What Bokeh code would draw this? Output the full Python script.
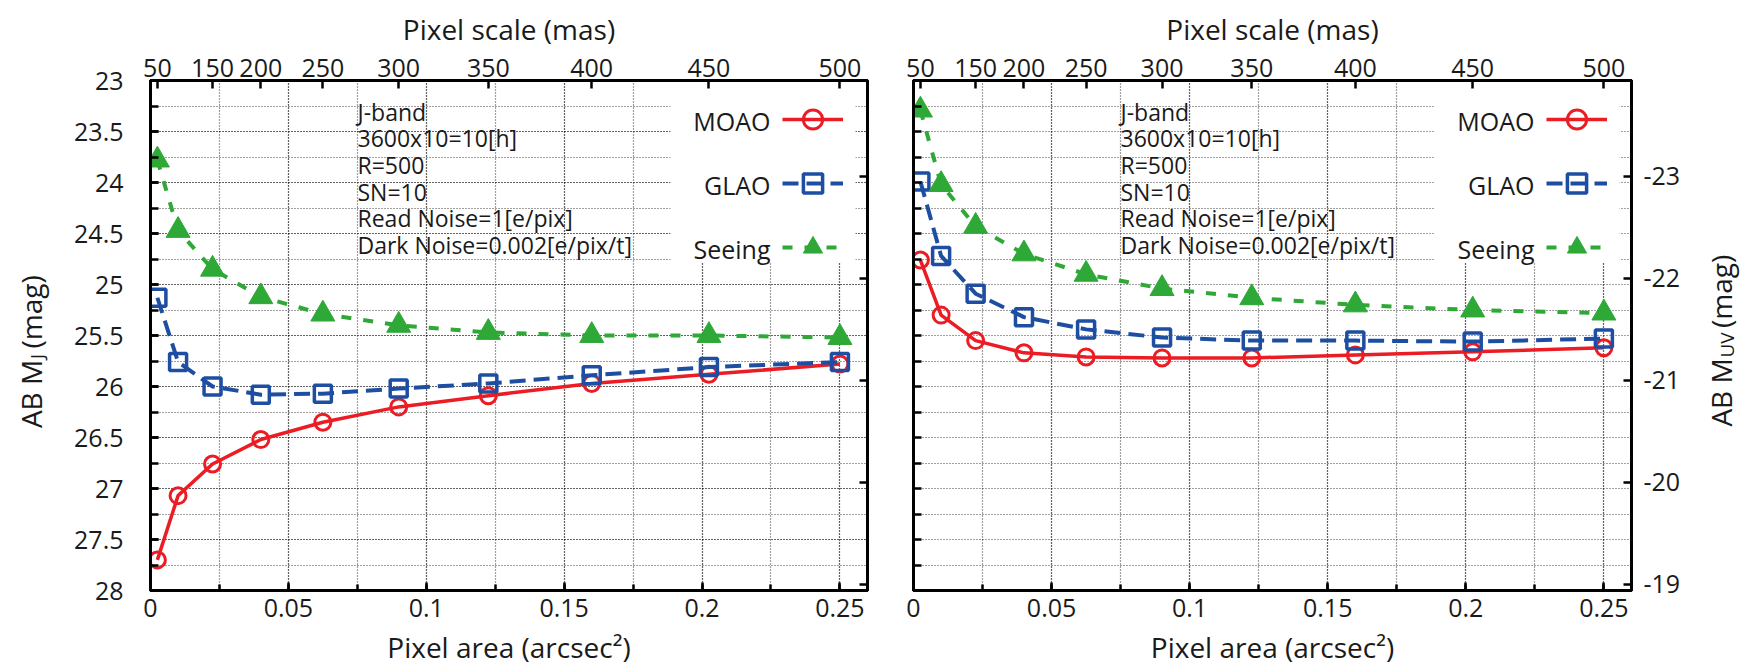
import math
from bokeh.plotting import figure
from bokeh.models import (Range1d, LinearAxis, FixedTicker, SingleIntervalTicker,
                          PrintfTickFormatter, CustomJSTickFormatter, Legend, LegendItem,
                          Label, BoxAnnotation, ColumnDataSource)
from bokeh.layouts import row
from bokeh.embed import file_html
from bokeh.resources import INLINE

# ---------------- data ----------------
pixel_scale_mas = [50, 100, 150, 200, 250, 300, 350, 400, 450, 500]
pixel_area = [(s / 1000.0) ** 2 for s in pixel_scale_mas]

# left panel : AB M_J (mag)
left_moao = [27.70, 27.07, 26.76, 26.52, 26.35, 26.20, 26.09, 25.97, 25.88, 25.78]
left_glao = [25.13, 25.76, 26.00, 26.08, 26.07, 26.02, 25.97, 25.89, 25.81, 25.76]
left_seeing = [23.78, 24.47, 24.85, 25.12, 25.29, 25.40, 25.47, 25.50, 25.50, 25.52]

# right panel : same magnitude scale on the left, AB M_UV on the right
right_moao = [24.76, 25.30, 25.55, 25.67, 25.71, 25.72, 25.72, 25.69, 25.66, 25.62]
right_glao = [23.99, 24.72, 25.09, 25.32, 25.44, 25.52, 25.55, 25.55, 25.56, 25.53]
right_seeing = [23.29, 24.02, 24.43, 24.70, 24.90, 25.04, 25.13, 25.20, 25.25, 25.28]

top_tick_mas = [50, 150, 200, 250, 300, 350, 400, 450, 500]
muv_ticks = [-23, -22, -21, -20, -19]
muv_offset = 46.94  # position of M_UV tick on the M_J scale: M_J = M_UV + offset

series_names = ["MOAO", "GLAO", "Seeing"]
annotation_lines = ["J-band", "3600x10=10[h]", "R=500", "SN=10",
                    "Read Noise=1[e/pix]", "Dark Noise=0.002[e/pix/t]"]
left_title = ("AB M", "J", "(mag)")
right_title = ("AB M", "UV", "(mag)")

# ---------------- style ----------------
FONT = "Open Sans"
RED = "#ec1c24"
BLUE = "#1d4ea2"
GREEN = "#2ea836"
TXT = "#1a1a1a"
FRAME_H = 510
CANVAS_H = 670
Y_TOP, Y_BOTTOM = 23.0, 28.0
X_MAX = 0.26
PX_PER_MAG = FRAME_H / (Y_BOTTOM - Y_TOP)

nearest_code = """
let best = 0;
for (let i = 0; i < tpos.length; i++) {
  if (Math.abs(tpos[i] - tick) < Math.abs(tpos[best] - tick)) { best = i; }
}
return tlabels[best];
"""


def style_axis(ax, minor_in=8):
    ax.axis_line_width = 3
    ax.axis_line_color = "black"
    ax.major_tick_in = 8
    ax.major_tick_out = 0
    ax.minor_tick_in = minor_in
    ax.minor_tick_out = 0
    ax.major_tick_line_width = 2.5
    ax.minor_tick_line_width = 2.5
    ax.major_label_text_font = FONT
    ax.major_label_text_font_size = "25px"
    ax.major_label_text_color = TXT
    ax.axis_label_text_font = FONT
    ax.axis_label_text_font_size = "28px"
    ax.axis_label_text_font_style = "normal"
    ax.axis_label_text_color = TXT


def add_text(p, x, y, text, size, align="left", angle=0.0, baseline="middle"):
    p.add_layout(Label(x=x, y=y, text=text, text_font=FONT, text_font_size=size,
                       text_color=TXT, text_align=align, text_baseline=baseline,
                       angle=angle))


def make_title_strip(width, pieces, anchor_y, sub_len):
    """A narrow blank figure (data units = pixels) holding a rotated title with a subscript."""
    t = figure(width=width, height=CANVAS_H, x_range=Range1d(0, width),
               y_range=Range1d(CANVAS_H, 0), min_border=0,
               x_axis_location=None, y_axis_location=None,
               output_backend="svg", toolbar_location=None)
    t.outline_line_color = None
    t.grid.visible = False
    t.background_fill_color = "white"
    t.border_fill_color = "white"
    cx = 30
    main, sub, rest = pieces
    add_text(t, cx, anchor_y, main, "28px", align="right", angle=math.pi / 2)
    add_text(t, cx + 6, anchor_y - 1, sub, "19px", align="left", angle=math.pi / 2)
    add_text(t, cx, anchor_y - sub_len - 8, rest, "28px", align="left", angle=math.pi / 2)
    return t


def make_panel(moao, glao, seeing, is_left):
    fw = 717 if is_left else 718
    px_per_x = fw / X_MAX
    p = figure(frame_width=fw, frame_height=FRAME_H,
               min_border_left=90 if is_left else 23,
               min_border_right=23 if is_left else 59,
               min_border_top=80, min_border_bottom=80,
               x_range=Range1d(0, X_MAX), y_range=Range1d(Y_BOTTOM, Y_TOP),
               output_backend="svg", toolbar_location=None)
    p.background_fill_color = "white"
    p.border_fill_color = "white"
    p.outline_line_color = "black"
    p.outline_line_width = 3

    # bottom axis
    xa = p.xaxis[0]
    xa.ticker = SingleIntervalTicker(interval=0.05, num_minor_ticks=2)
    xa.formatter = PrintfTickFormatter(format="%.3g")
    xa.axis_label = "Pixel area (arcsec²)"
    style_axis(xa, minor_in=6)
    xa.major_label_standoff = 8
    xa.axis_label_standoff = 8

    # left axis
    ya = p.yaxis[0]
    if is_left:
        ya.ticker = SingleIntervalTicker(interval=0.5, num_minor_ticks=2)
        ya.formatter = PrintfTickFormatter(format="%.3g")
        style_axis(ya)
        ya.major_label_standoff = 27
    else:
        ya.ticker = SingleIntervalTicker(interval=0.25, num_minor_ticks=0)
        ya.formatter = CustomJSTickFormatter(code="return '';")
        style_axis(ya)
        ya.major_label_standoff = 0

    # top axis : pixel scale
    top_pos = [(m / 1000.0) ** 2 for m in top_tick_mas]
    ta = LinearAxis(ticker=FixedTicker(ticks=top_pos),
                    formatter=CustomJSTickFormatter(
                        args=dict(tpos=top_pos, tlabels=[str(m) for m in top_tick_mas]),
                        code=nearest_code),
                    axis_label="Pixel scale (mas)")
    style_axis(ta)
    ta.major_label_standoff = 4
    ta.axis_label_standoff = 8
    p.add_layout(ta, "above")

    # right axis : AB M_UV
    muv_pos = [m + muv_offset for m in muv_ticks]
    ra = LinearAxis(ticker=FixedTicker(ticks=muv_pos),
                    formatter=CustomJSTickFormatter(
                        args=dict(tpos=muv_pos,
                                  tlabels=[str(m) for m in muv_ticks] if not is_left else [""] * len(muv_ticks)),
                        code=nearest_code))
    style_axis(ra)
    ra.major_label_standoff = 12 if not is_left else 0
    p.add_layout(ra, "right")

    # grid
    for g in (p.xgrid[0], p.ygrid[0]):
        g.grid_line_color = "black"
        g.grid_line_alpha = 0.75
        g.grid_line_dash = "1 2"
        g.grid_line_width = 1.2
        g.minor_grid_line_color = "black"
        g.minor_grid_line_alpha = 0.75
        g.minor_grid_line_dash = "1 2"
        g.minor_grid_line_width = 1.2

    # opaque key box
    p.add_layout(BoxAnnotation(left=(fw - 197) / px_per_x, right=(fw - 12) / px_per_x,
                               top=Y_TOP, bottom=Y_TOP + 182 / PX_PER_MAG,
                               fill_color="white", fill_alpha=1.0, line_alpha=0,
                               level="underlay"))

    src = ColumnDataSource(dict(x=pixel_area, moao=moao, glao=glao, seeing=seeing))
    r1 = p.line("x", "moao", source=src, line_color=RED, line_width=3.5)
    s1 = p.scatter("x", "moao", source=src, marker="circle", size=16,
                   line_color=RED, line_width=3, fill_color=None)
    r2 = p.line("x", "glao", source=src, line_color=BLUE, line_width=4, line_dash="16 8")
    s2 = p.scatter("x", "glao", source=src, marker="square", size=17,
                   line_color=BLUE, line_width=3.5, fill_color=None)
    r3 = p.line("x", "seeing", source=src, line_color=GREEN, line_width=4, line_dash="10 12")
    s3 = p.scatter("x", "seeing", source=src, marker="triangle", size=24,
                   line_color=GREEN, line_width=1, fill_color=GREEN)

    legend = Legend(items=[LegendItem(label=" ", renderers=[r1, s1]),
                           LegendItem(label=" ", renderers=[r2, s2]),
                           LegendItem(label=" ", renderers=[r3, s3])],
                    location=(fw - 85, 319), glyph_width=61, glyph_height=48,
                    label_height=48, label_width=0, label_standoff=0,
                    spacing=16, padding=0, margin=0, border_line_color=None,
                    background_fill_alpha=0, label_text_font_size="1px")
    p.add_layout(legend)

    # key names (right-aligned, left of the samples)
    key_x = (fw - 97) / px_per_x
    for i, name in enumerate(series_names):
        add_text(p, key_x, Y_TOP + (40 + 64 * i) / PX_PER_MAG, name, "25px", align="right")

    # annotation block
    ann_x = 207 / px_per_x
    for i, line in enumerate(annotation_lines):
        add_text(p, ann_x, Y_TOP + (31 + 26.7 * i) / PX_PER_MAG, line, "23px")
    return p


t1 = make_title_strip(60, left_title, 367, 7)
p1 = make_panel(left_moao, left_glao, left_seeing, True)
p2 = make_panel(right_moao, right_glao, right_seeing, False)
t2 = make_title_strip(57, right_title, 365, 32)
layout = row(t1, p1, p2, t2)

open("out.html", "w").write(file_html(layout, INLINE))
